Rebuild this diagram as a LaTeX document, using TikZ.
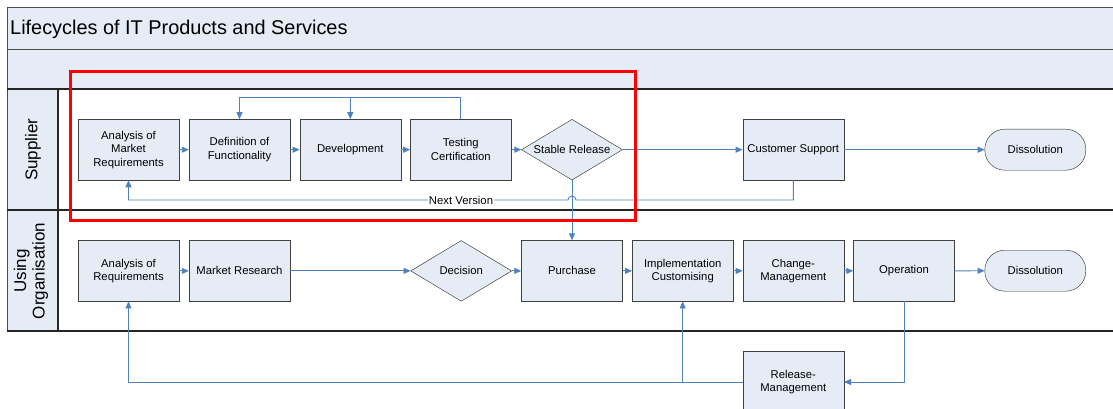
\documentclass[tikz,border=0pt]{standalone}
\usepackage{fontspec}
\setmainfont{Liberation Sans}
\usetikzlibrary{arrows.meta,shapes.geometric}
\definecolor{boxblue}{HTML}{E5ECF6}
\definecolor{flowblue}{HTML}{4F81BD}
\begin{document}
\begin{tikzpicture}[x=1pt,y=-1pt,font=\fontsize{11.3}{13.5}\selectfont,
proc/.style={draw=black!75,fill=boxblue,minimum width=101pt,minimum height=60.7pt,inner sep=1pt,align=center},
decide/.style={diamond,aspect=1.66,draw=black!85,fill=boxblue,minimum width=101pt,minimum height=60.7pt,inner sep=0pt},
term/.style={draw=black!85,fill=boxblue,rounded corners=20pt,minimum width=101pt,minimum height=41pt},
flow/.style={flowblue,line width=.9pt,-{Triangle[length=7pt,width=6pt]}},
lane/.style={black!85,line width=1.1pt}]
\useasboundingbox(0,0)rectangle(1113,409);
% frame and lanes
\fill[boxblue](7,7.3)rectangle(1113,89)(7,89)rectangle(58,331);
\draw[black!70,line width=.8pt](1113,7.3)--(7,7.3)--(7,331)(7,49)--(1113,49);
\draw[lane](7,89)--(1113,89)(7,210)--(1113,210)(7,331)--(1113,331)(58,89)--(58,331);
\node[anchor=base west,inner sep=0pt,font=\fontsize{19.9}{22}\selectfont](title)at(10,35){Lifecycles of IT Products and Services};
\node[rotate=90,font=\fontsize{17}{18.3}\selectfont](sup)at(33,149.7){Supplier};
\node[rotate=90,align=center,font=\fontsize{17}{18.3}\selectfont](uso)at(31,270.9){Using\\Organisation};
% supplier
\node[proc](amr)at(128.5,149.7){Analysis of\\Market\\Requirements};\node[proc](dof)at(239.5,149.7){Definition of\\Functionality};
\node[proc](dev)at(350.3,149.7){Development};\node[proc](tc)at(460.8,149.7){Testing\\Certification};
\node[decide](rel)at(572,149.7){Stable Release};\node[proc](cs)at(793.3,149.7){Customer Support};\node[term](dis1)at(1035.3,149.7){Dissolution};
% using organisation
\node[proc](aor)at(128.5,270.9){Analysis of\\Requirements};\node[proc](mr)at(239.5,270.9){Market Research};
\node[decide](dec)at(461.2,270.9){Decision};\node[proc](pur)at(572,270.9){Purchase};\node[proc](ics)at(682.7,270.9){Implementation\\Customising};
\node[proc](chm)at(793.3,270.9){Change-\\Management};\node[proc](op)at(904,270.9){Operation};\node[term](dis2)at(1035.3,270.7){Dissolution};
\node[proc](rm)at(793.3,382){Release-\\Management};
% connectors
\draw[flow](amr)--(dof);\draw[flow](dof)--(dev);\draw[flow](dev)--(tc);\draw[flow](tc)--(rel);\draw[flow](rel)--(cs);\draw[flow](cs)--(dis1);
\draw[flow](aor)--(mr);\draw[flow](mr)--(dec);\draw[flow](dec)--(pur);\draw[flow](pur)--(ics);\draw[flow](ics)--(chm);\draw[flow](chm)--(op);\draw[flow](op)--(dis2);
\coordinate(lp)at(0,97.7);\coordinate(nv)at(461,200);
\draw[flow](tc.north)--(tc.north|-lp)-|(dof.north);\draw[flow](dev.north|-lp)--(dev.north);
\draw[flow](cs.south)--(cs.south|-nv)--(576,200)arc(0:-180:4)--(amr.south|-nv)--(amr.south);
\node[fill=white,inner sep=1pt](nvl)at(nv){Next Version};
\draw[flow](rel.south)--(pur.north);
\draw[flow](op.south)|-(rm.east);\draw[flow](rm.west)-|(aor.south);\draw[flow](ics.south|-rm.west)--(ics.south);
\draw[red,line width=3pt](70,71.7)rectangle(635.7,220);
\end{tikzpicture}
\end{document}
